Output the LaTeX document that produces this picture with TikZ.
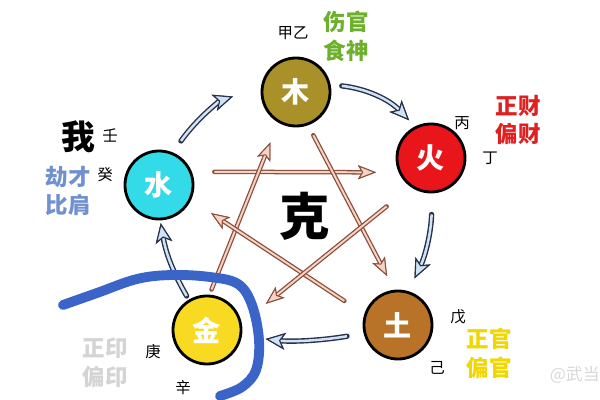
\documentclass[tikz,border=0pt]{standalone}
\usepackage{fontspec}
\setmainfont{Noto Sans CJK SC}
\usetikzlibrary{arrows.meta}
\definecolor{WoodFill}{HTML}{A99028}
\definecolor{FireFill}{HTML}{E8161B}
\definecolor{EarthFill}{HTML}{B97328}
\definecolor{MetalFill}{HTML}{F8DA22}
\definecolor{WaterFill}{HTML}{33DBE8}
\definecolor{GenLine}{HTML}{27314A}
\definecolor{GenFill}{HTML}{CFE2F6}
\definecolor{KeLine}{HTML}{8A4E3E}
\definecolor{KeFill}{HTML}{F7D3C2}
\definecolor{GodGreen}{HTML}{6CB02C}
\definecolor{GodRed}{HTML}{E02020}
\definecolor{GodYellow}{HTML}{F2D600}
\definecolor{GodGray}{HTML}{D4D4D4}
\definecolor{GodBlue}{HTML}{7090D0}
\definecolor{MarkBlue}{HTML}{3B64C8}
\definecolor{Watermark}{HTML}{D8D8D8}
\tikzset{
  element/.style={circle, draw=black, line width=2pt, minimum size=1.7cm, inner sep=0pt, text=white, font=\fontsize{20}{20}\selectfont\bfseries},
  stem/.style={inner sep=0pt, font=\fontsize{11}{11}\selectfont},
  godlabel/.style={inner sep=0pt, align=center, font=\fontsize{16}{20.5}\selectfont\bfseries},
  genarrow/.style={draw=GenFill, line width=1.8pt, -{Stealth[length=14pt, width=12pt, inset=3.5pt, line width=0.8pt, color=GenLine, fill=GenFill]}, preaction={draw=GenLine, line width=3.8pt, line cap=round}},
  kearrow/.style={draw=KeFill, line width=1.4pt, -{Stealth[length=13pt, width=10pt, inset=3pt, line width=0.7pt, color=KeLine, fill=KeFill]}, preaction={draw=KeLine, line width=3.2pt, line cap=round}},
  marker/.style={draw=MarkBlue, line width=7pt, line cap=round, line join=round}
}

\begin{document}
\begin{tikzpicture}[x=0.025cm, y=-0.025cm]
  \path[use as bounding box, fill=white] (0,0) rectangle (600,400);

  % five elements
  \node[element, fill=WoodFill] (wood) at (296,92) {木};
  \node[element, fill=FireFill] (fire) at (431,158) {火};
  \node[element, fill=EarthFill] (earth) at (398,325) {土};
  \node[element, fill=MetalFill] (metal) at (207,330) {金};
  \node[element, fill=WaterFill] (water) at (159,185) {水};

  \node[font=\fontsize{36}{36}\selectfont\bfseries] (ke) at (305,216) {克};

  % stems
  \node[stem] (jiayi) at (293,33) {甲乙};
  \node[stem] (bing) at (462,123) {丙};
  \node[stem] (ding) at (490,158) {丁};
  \node[stem] (wu) at (458,317) {戊};
  \node[stem] (ji) at (437,368) {己};
  \node[stem] (geng) at (153,352) {庚};
  \node[stem] (xin) at (183,388) {辛};
  \node[stem] (ren) at (110,135) {壬};
  \node[stem] (gui) at (105,175) {癸};

  % ten gods
  \node[godlabel, text=GodGreen] (shishang) at (346,36) {伤官\\食神};
  \node[godlabel, text=GodRed] (cai) at (518,120) {正财\\偏财};
  \node[godlabel, text=GodYellow] (guan) at (489,353) {正官\\偏官};
  \node[godlabel, text=GodGray] (yin) at (105,363) {正印\\偏印};
  \node[godlabel, text=GodBlue] (bijie) at (68,191) {劫才\\比肩};
  \node[font=\fontsize{24}{24}\selectfont\bfseries] (wo) at (78,137) {我};
  \node[anchor=west, text=Watermark, font=\fontsize{12}{12}\selectfont] (mark) at (545,375) {@武当};

  % generating cycle
  \draw[genarrow, shorten <=8pt, shorten >=6pt] (wood.12) to[bend left=20] (fire.117);
  \draw[genarrow, shorten <=15pt, shorten >=10pt] (fire.-88) to[bend left=12] (earth.73);
  \draw[genarrow, shorten <=12pt, shorten >=17pt] (earth.194) to[bend left=8] (metal.-10);
  \draw[genarrow, shorten <=3pt, shorten >=2pt] (metal.121) to[bend left=10] (water.-88);
  \draw[genarrow, shorten <=10pt, shorten >=21pt] (water.67) to[bend left=18] (wood.172);

  % overcoming
  \draw[kearrow, shorten <=16pt, shorten >=16pt] (water.22.5) -- (fire.204.3);
  \draw[kearrow, shorten <=4pt, shorten >=15pt] (metal.86) -- (wood.240);
  \draw[kearrow, shorten <=8pt, shorten >=11pt] (wood.-70) -- (earth.96);
  \draw[kearrow, shorten <=17pt, shorten >=17pt] (earth.162) -- (water.-25);
  \draw[kearrow, shorten <=22pt, shorten >=22pt] (fire.235) -- (metal.11);

  % hand-drawn mark
  \draw[marker] plot[smooth, tension=0.6] coordinates {(63,305) (97,293) (137,279) (172,275) (210,277) (238,284) (252,305) (259,340) (256,370) (242,387) (220,396)};
\end{tikzpicture}
\end{document}
